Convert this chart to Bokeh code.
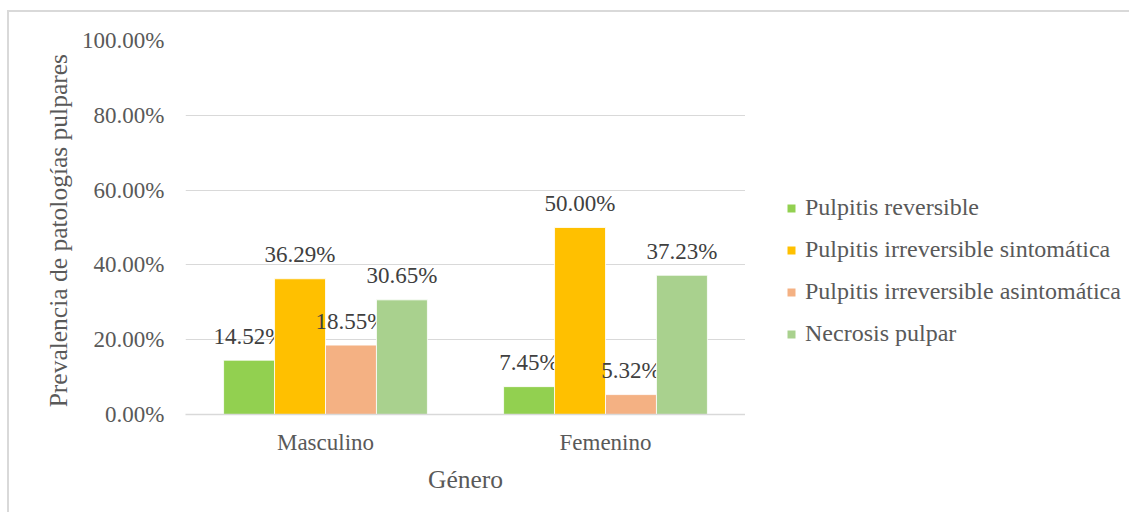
from bokeh.plotting import figure
from bokeh.layouts import row
from bokeh.models import ColumnDataSource, FixedTicker, Legend, LegendItem
from bokeh.core.properties import value
from bokeh.embed import file_html
from bokeh.resources import INLINE

# ---- data ----
generos = ["Masculino", "Femenino"]
series_names = [
    "Pulpitis reversible",
    "Pulpitis irreversible sintomática",
    "Pulpitis irreversible asintomática",
    "Necrosis pulpar",
]
pulpitis_reversible = [14.52, 7.45]
pulpitis_irreversible_sintomatica = [36.29, 50.00]
pulpitis_irreversible_asintomatica = [18.55, 5.32]
necrosis_pulpar = [30.65, 37.23]
y_ticks = [0, 20, 40, 60, 80, 100]

series_values = [
    pulpitis_reversible,
    pulpitis_irreversible_sintomatica,
    pulpitis_irreversible_asintomatica,
    necrosis_pulpar,
]
colors = ["#92D050", "#FFC000", "#F4B183", "#A9D18E"]

FONT = "Liberation Serif"
TEXT = "#595959"

p = figure(
    width=736, height=500,
    x_range=(0, 2), y_range=(0, 100),
    output_backend="svg", toolbar_location=None,
    min_border_left=176, min_border_right=0,
    min_border_top=28, min_border_bottom=98,
)
p.outline_line_color = None

# legend-only figure
lg = figure(
    width=384, height=500, x_range=(0, 1), y_range=(0, 1),
    output_backend="svg", toolbar_location=None,
    min_border_left=0, min_border_right=0, min_border_top=0, min_border_bottom=0,
)
lg.axis.visible = False
lg.grid.visible = False
lg.outline_line_color = None

centers = [0.5 + i for i in range(len(generos))]
bw = 0.182
items = []
for k, (name, vals, col) in enumerate(zip(series_names, series_values, colors)):
    xs = [c + (k - 1.5) * bw for c in centers]
    src = ColumnDataSource(dict(
        x=xs, top=vals, label=[f"{v:.2f}%" for v in vals]))
    p.vbar(x="x", top="top", width=bw, source=src,
           fill_color=col, line_color="white", line_width=0.8)
    p.text(x="x", y="top", text="label", source=src,
           text_font=value(FONT), text_font_size="23px", text_color="#404040",
           text_align="center", text_baseline="middle", y_offset=-24)
    # legend swatch renderer (kept outside the visible range)
    dummy = lg.vbar(x=[-10], top=[0], width=0.1, fill_color=col, line_color=None)
    items.append(LegendItem(label=name, renderers=[dummy]))

# axes
p.xaxis.ticker = FixedTicker(ticks=centers)
p.xaxis.major_label_overrides = {c: g for c, g in zip(centers, generos)}
p.yaxis.ticker = FixedTicker(ticks=y_ticks)
p.yaxis.major_label_overrides = {t: f"{t:.2f}%" for t in y_ticks}

for ax in (p.xaxis[0], p.yaxis[0]):
    ax.major_tick_line_color = None
    ax.minor_tick_line_color = None
    ax.major_label_text_font = FONT
    ax.major_label_text_font_size = "23px"
    ax.major_label_text_color = TEXT
    ax.axis_label_text_font = FONT
    ax.axis_label_text_font_size = "25.5px"
    ax.axis_label_text_font_style = "normal"
    ax.axis_label_text_color = TEXT

p.xaxis.axis_label = "Género"
p.xaxis.axis_line_color = "#D9D9D9"
p.xaxis.axis_line_width = 1.5
p.xaxis.major_label_standoff = 9
p.xaxis.axis_label_standoff = 7

p.yaxis.axis_label = "Prevalencia  de patologías pulpares"
p.yaxis.axis_line_color = None
p.yaxis.major_label_standoff = 15
p.yaxis.axis_label_standoff = 6

p.xgrid.grid_line_color = None
p.ygrid.grid_line_color = "#D9D9D9"
p.ygrid.grid_line_width = 1.2

legend = Legend(items=items, location=(41, 67), orientation="vertical")
legend.label_text_font = FONT
legend.label_text_font_size = "24px"
legend.label_text_color = TEXT
legend.glyph_width = 10
legend.glyph_height = 10
legend.label_standoff = 9
legend.label_height = 24
legend.spacing = 15
legend.padding = 0
legend.margin = 0
legend.border_line_color = None
legend.background_fill_alpha = 0
lg.add_layout(legend)

layout = row(p, lg, spacing=0)
layout.styles = {"margin-top": "10px", "margin-left": "7px",
                 "border-top": "2px solid #d9d9d9", "border-left": "2px solid #d9d9d9"}

open("out.html", "w").write(file_html(layout, INLINE))
